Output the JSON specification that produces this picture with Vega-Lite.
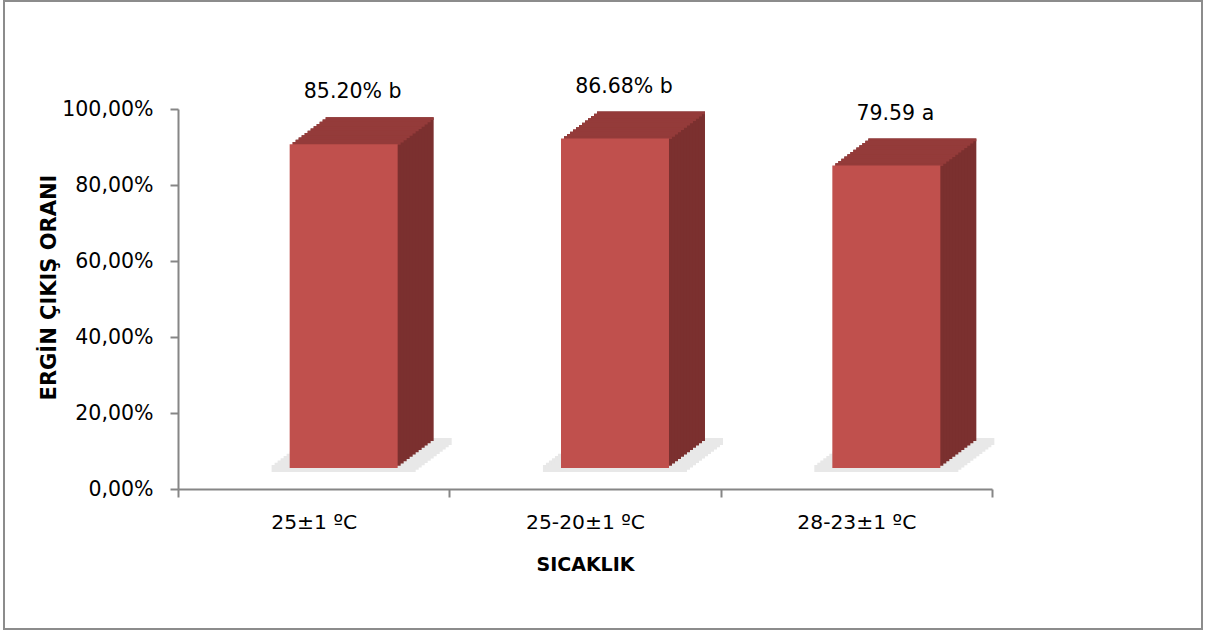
{
  "$schema": "https://vega.github.io/schema/vega-lite/v6.json",
  "autosize": "none",
  "width": 1198,
  "height": 628,
  "padding": {"left": 4, "top": 1, "right": 5, "bottom": 3},
  "background": "white",
  "config": {
    "view": {"stroke": "#8c8c8c", "strokeWidth": 2},
    "font": "DejaVu Sans",
    "axis": {"domainColor": "#868686", "tickColor": "#868686", "domainWidth": 2, "tickWidth": 2, "labelColor": "black", "titleColor": "black", "grid": false, "labelFont": "DejaVu Sans", "titleFont": "DejaVu Sans"}
  },
  "data": {
    "values": [
      {"cat": "25±1 ºC", "value": 85.2, "label": "85.20% b"},
      {"cat": "25-20±1 ºC", "value": 86.68, "label": "86.68% b"},
      {"cat": "28-23±1 ºC", "value": 79.59, "label": "79.59 a"}
    ]
  },
  "encoding": {
    "x": {
      "field": "cat", "type": "nominal", "sort": null,
      "scale": {"range": [174, 988], "paddingInner": 0, "paddingOuter": 0},
      "axis": {"title": "SICAKLIK", "orient": "bottom", "offset": -140, "labelAngle": 0, "tickBand": "extent", "tickSize": 8, "labelFontSize": 20.3, "labelPadding": 15, "titleFontSize": 19, "titleFontWeight": "bold", "titleBaseline": "alphabetic", "titleY": 81}
    },
    "y": {
      "field": "value", "type": "quantitative",
      "scale": {"domain": [0, 100], "range": [488, 108], "nice": false},
      "axis": {"title": "ERGİN ÇIKIŞ ORANI", "orient": "left", "offset": -174, "values": [0, 20, 40, 60, 80, 100], "tickSize": 8, "labelPadding": 17, "labelFontSize": 20.5, "labelExpr": "replace(format(datum.value, '.2f'), '.', ',') + '%'", "titleFontSize": 21, "titleFontWeight": "bold", "titleBaseline": "alphabetic", "titleX": -123, "titleY": 286}
    }
  },
  "layer": [
    {"mark": {"type": "bar", "color": "#e8e8e8", "width": {"band": 0.531}, "xOffset": 30, "x2Offset": 30, "yOffset": -24, "y2Offset": -17}, "encoding": {"y": {"datum": 0}, "y2": {"datum": 0}}},
    {"mark": {"type": "bar", "color": "#e8e8e8", "width": {"band": 0.531}, "xOffset": 33, "x2Offset": 33, "yOffset": -26.25, "y2Offset": -19.25}, "encoding": {"y": {"datum": 0}, "y2": {"datum": 0}}},
    {"mark": {"type": "bar", "color": "#e8e8e8", "width": {"band": 0.531}, "xOffset": 36, "x2Offset": 36, "yOffset": -28.5, "y2Offset": -21.5}, "encoding": {"y": {"datum": 0}, "y2": {"datum": 0}}},
    {"mark": {"type": "bar", "color": "#e8e8e8", "width": {"band": 0.531}, "xOffset": 39, "x2Offset": 39, "yOffset": -30.75, "y2Offset": -23.75}, "encoding": {"y": {"datum": 0}, "y2": {"datum": 0}}},
    {"mark": {"type": "bar", "color": "#e8e8e8", "width": {"band": 0.531}, "xOffset": 42, "x2Offset": 42, "yOffset": -33, "y2Offset": -26}, "encoding": {"y": {"datum": 0}, "y2": {"datum": 0}}},
    {"mark": {"type": "bar", "color": "#e8e8e8", "width": {"band": 0.531}, "xOffset": 45, "x2Offset": 45, "yOffset": -35.25, "y2Offset": -28.25}, "encoding": {"y": {"datum": 0}, "y2": {"datum": 0}}},
    {"mark": {"type": "bar", "color": "#e8e8e8", "width": {"band": 0.531}, "xOffset": 48, "x2Offset": 48, "yOffset": -37.5, "y2Offset": -30.5}, "encoding": {"y": {"datum": 0}, "y2": {"datum": 0}}},
    {"mark": {"type": "bar", "color": "#e8e8e8", "width": {"band": 0.531}, "xOffset": 51, "x2Offset": 51, "yOffset": -39.75, "y2Offset": -32.75}, "encoding": {"y": {"datum": 0}, "y2": {"datum": 0}}},
    {"mark": {"type": "bar", "color": "#e8e8e8", "width": {"band": 0.531}, "xOffset": 54, "x2Offset": 54, "yOffset": -42, "y2Offset": -35}, "encoding": {"y": {"datum": 0}, "y2": {"datum": 0}}},
    {"mark": {"type": "bar", "color": "#e8e8e8", "width": {"band": 0.531}, "xOffset": 57, "x2Offset": 57, "yOffset": -44.25, "y2Offset": -37.25}, "encoding": {"y": {"datum": 0}, "y2": {"datum": 0}}},
    {"mark": {"type": "bar", "color": "#e8e8e8", "width": {"band": 0.531}, "xOffset": 60, "x2Offset": 60, "yOffset": -46.5, "y2Offset": -39.5}, "encoding": {"y": {"datum": 0}, "y2": {"datum": 0}}},
    {"mark": {"type": "bar", "color": "#e8e8e8", "width": {"band": 0.531}, "xOffset": 63, "x2Offset": 63, "yOffset": -48.75, "y2Offset": -41.75}, "encoding": {"y": {"datum": 0}, "y2": {"datum": 0}}},
    {"mark": {"type": "bar", "color": "#e8e8e8", "width": {"band": 0.531}, "xOffset": 66, "x2Offset": 66, "yOffset": -51, "y2Offset": -44}, "encoding": {"y": {"datum": 0}, "y2": {"datum": 0}}},
    {"mark": {"type": "bar", "color": "#7b302f", "width": {"band": 0.398}, "xOffset": 66, "x2Offset": 66, "yOffset": -48, "y2Offset": -48}},
    {"mark": {"type": "bar", "color": "#7b302f", "width": {"band": 0.398}, "xOffset": 63, "x2Offset": 63, "yOffset": -45.75, "y2Offset": -45.75}},
    {"mark": {"type": "bar", "color": "#7b302f", "width": {"band": 0.398}, "xOffset": 60, "x2Offset": 60, "yOffset": -43.5, "y2Offset": -43.5}},
    {"mark": {"type": "bar", "color": "#7b302f", "width": {"band": 0.398}, "xOffset": 57, "x2Offset": 57, "yOffset": -41.25, "y2Offset": -41.25}},
    {"mark": {"type": "bar", "color": "#7b302f", "width": {"band": 0.398}, "xOffset": 54, "x2Offset": 54, "yOffset": -39, "y2Offset": -39}},
    {"mark": {"type": "bar", "color": "#7b302f", "width": {"band": 0.398}, "xOffset": 51, "x2Offset": 51, "yOffset": -36.75, "y2Offset": -36.75}},
    {"mark": {"type": "bar", "color": "#7b302f", "width": {"band": 0.398}, "xOffset": 48, "x2Offset": 48, "yOffset": -34.5, "y2Offset": -34.5}},
    {"mark": {"type": "bar", "color": "#7b302f", "width": {"band": 0.398}, "xOffset": 45, "x2Offset": 45, "yOffset": -32.25, "y2Offset": -32.25}},
    {"mark": {"type": "bar", "color": "#7b302f", "width": {"band": 0.398}, "xOffset": 42, "x2Offset": 42, "yOffset": -30, "y2Offset": -30}},
    {"mark": {"type": "bar", "color": "#7b302f", "width": {"band": 0.398}, "xOffset": 39, "x2Offset": 39, "yOffset": -27.75, "y2Offset": -27.75}},
    {"mark": {"type": "bar", "color": "#7b302f", "width": {"band": 0.398}, "xOffset": 36, "x2Offset": 36, "yOffset": -25.5, "y2Offset": -25.5}},
    {"mark": {"type": "bar", "color": "#7b302f", "width": {"band": 0.398}, "xOffset": 33, "x2Offset": 33, "yOffset": -23.25, "y2Offset": -23.25}},
    {"mark": {"type": "bar", "color": "#943b3a", "width": {"band": 0.398}, "xOffset": 66, "x2Offset": 66, "yOffset": -48, "y2Offset": -45.25}, "encoding": {"y2": {"field": "value"}}},
    {"mark": {"type": "bar", "color": "#943b3a", "width": {"band": 0.398}, "xOffset": 63, "x2Offset": 63, "yOffset": -45.75, "y2Offset": -43}, "encoding": {"y2": {"field": "value"}}},
    {"mark": {"type": "bar", "color": "#943b3a", "width": {"band": 0.398}, "xOffset": 60, "x2Offset": 60, "yOffset": -43.5, "y2Offset": -40.75}, "encoding": {"y2": {"field": "value"}}},
    {"mark": {"type": "bar", "color": "#943b3a", "width": {"band": 0.398}, "xOffset": 57, "x2Offset": 57, "yOffset": -41.25, "y2Offset": -38.5}, "encoding": {"y2": {"field": "value"}}},
    {"mark": {"type": "bar", "color": "#943b3a", "width": {"band": 0.398}, "xOffset": 54, "x2Offset": 54, "yOffset": -39, "y2Offset": -36.25}, "encoding": {"y2": {"field": "value"}}},
    {"mark": {"type": "bar", "color": "#943b3a", "width": {"band": 0.398}, "xOffset": 51, "x2Offset": 51, "yOffset": -36.75, "y2Offset": -34}, "encoding": {"y2": {"field": "value"}}},
    {"mark": {"type": "bar", "color": "#943b3a", "width": {"band": 0.398}, "xOffset": 48, "x2Offset": 48, "yOffset": -34.5, "y2Offset": -31.75}, "encoding": {"y2": {"field": "value"}}},
    {"mark": {"type": "bar", "color": "#943b3a", "width": {"band": 0.398}, "xOffset": 45, "x2Offset": 45, "yOffset": -32.25, "y2Offset": -29.5}, "encoding": {"y2": {"field": "value"}}},
    {"mark": {"type": "bar", "color": "#943b3a", "width": {"band": 0.398}, "xOffset": 42, "x2Offset": 42, "yOffset": -30, "y2Offset": -27.25}, "encoding": {"y2": {"field": "value"}}},
    {"mark": {"type": "bar", "color": "#943b3a", "width": {"band": 0.398}, "xOffset": 39, "x2Offset": 39, "yOffset": -27.75, "y2Offset": -25}, "encoding": {"y2": {"field": "value"}}},
    {"mark": {"type": "bar", "color": "#943b3a", "width": {"band": 0.398}, "xOffset": 36, "x2Offset": 36, "yOffset": -25.5, "y2Offset": -22.75}, "encoding": {"y2": {"field": "value"}}},
    {"mark": {"type": "bar", "color": "#943b3a", "width": {"band": 0.398}, "xOffset": 33, "x2Offset": 33, "yOffset": -23.25, "y2Offset": -20.5}, "encoding": {"y2": {"field": "value"}}},
    {"mark": {"type": "bar", "color": "#c0504d", "width": {"band": 0.398}, "xOffset": 30, "x2Offset": 30, "yOffset": -21, "y2Offset": -21}},
    {"mark": {"type": "text", "fontSize": 20.5, "font": "DejaVu Sans", "color": "black", "baseline": "middle", "align": "center", "dx": 39, "dy": -73}, "encoding": {"text": {"field": "label"}}}
  ]
}
